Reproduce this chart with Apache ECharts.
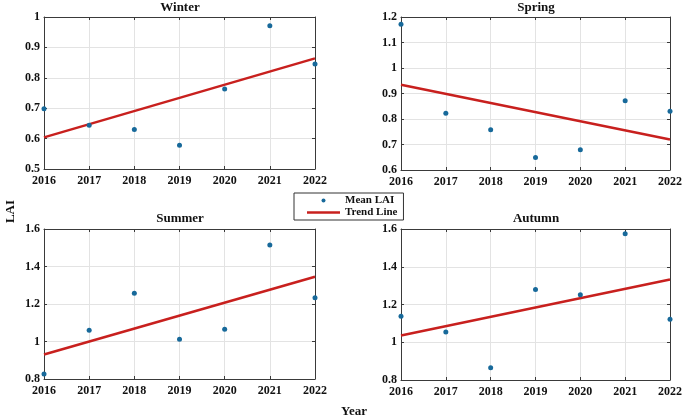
<!DOCTYPE html>
<html>
<head>
<meta charset="utf-8">
<script src="https://cdn.jsdelivr.net/npm/echarts@6/dist/echarts.min.js"></script>
<style>html,body{margin:0;padding:0;background:#fff}#c{width:685px;height:420px}</style>
</head>
<body>
<div id="c"></div>
<script>
const years = [2016, 2017, 2018, 2019, 2020, 2021, 2022];
const seasons = ['Winter', 'Spring', 'Summer', 'Autumn'];
const winterLAI = [0.698, 0.644, 0.630, 0.578, 0.763, 0.971, 0.845];
const springLAI = [1.172, 0.823, 0.758, 0.649, 0.679, 0.872, 0.830];
const summerLAI = [0.827, 1.060, 1.257, 1.012, 1.065, 1.515, 1.234];
const autumnLAI = [1.138, 1.054, 0.865, 1.279, 1.251, 1.575, 1.122];
// trend line values at 2016 and 2022
const winterTrend = [0.604, 0.864];
const springTrend = [0.934, 0.720];
const summerTrend = [0.931, 1.345];
const autumnTrend = [1.036, 1.332];
const yMin = [0.5, 0.6, 0.8, 0.8];
const yMax = [1.0, 1.2, 1.6, 1.6];
const yStep = [0.1, 0.1, 0.2, 0.2];

const lai = [winterLAI, springLAI, summerLAI, autumnLAI];
const trends = [winterTrend, springTrend, summerTrend, autumnTrend];

const FONT = 'Liberation Serif';
const gridBoxes = [
  {left: 44, top: 17, width: 271, height: 152},
  {left: 401, top: 17, width: 271, height: 153},
  {left: 44, top: 229, width: 271, height: 150},
  {left: 401, top: 229, width: 271, height: 151}
];
const titlePos = [[180, 1], [536, 1], [180, 212], [536, 212]];

const grid = [], xAxis = [], yAxis = [], series = [], title = [];
const lineCol = '#3a3a3a';
const fmt = v => String(Math.round(v * 100) / 100);
gridBoxes.forEach((g, i) => {
  grid.push(Object.assign({show: false}, g));
  title.push({text: seasons[i], left: titlePos[i][0], top: titlePos[i][1], textAlign: 'center', padding: 0,
    textStyle: {fontFamily: FONT, fontWeight: 'bold', fontSize: 13, color: '#111'}});
  const xCommon = {type: 'value', gridIndex: i, min: 2016, max: 2022, interval: 1};
  xAxis.push(Object.assign({}, xCommon, {position: 'bottom',
    axisLine: {show: true, onZero: false, lineStyle: {color: lineCol, width: 1}},
    axisTick: {show: true, inside: true, length: 3, lineStyle: {color: lineCol}},
    axisLabel: {show: true, margin: 6, formatter: v => String(v), fontFamily: FONT, fontWeight: 'bold', fontSize: 12, color: '#111'},
    splitLine: {show: true, lineStyle: {color: '#e3e3e3', width: 1}}}));
  xAxis.push(Object.assign({}, xCommon, {position: 'top',
    axisLine: {show: true, onZero: false, lineStyle: {color: lineCol, width: 1}},
    axisTick: {show: true, inside: true, length: 3, lineStyle: {color: lineCol}},
    axisLabel: {show: false}, splitLine: {show: false}}));
  const yCommon = {type: 'value', gridIndex: i, min: yMin[i], max: yMax[i], interval: yStep[i]};
  yAxis.push(Object.assign({}, yCommon, {position: 'left',
    axisLine: {show: true, onZero: false, lineStyle: {color: lineCol, width: 1}},
    axisTick: {show: true, inside: true, length: 3, lineStyle: {color: lineCol}},
    axisLabel: {show: true, margin: 4, formatter: fmt, fontFamily: FONT, fontWeight: 'bold', fontSize: 12, color: '#111'},
    splitLine: {show: true, lineStyle: {color: '#e3e3e3', width: 1}}}));
  yAxis.push(Object.assign({}, yCommon, {position: 'right',
    axisLine: {show: true, onZero: false, lineStyle: {color: lineCol, width: 1}},
    axisTick: {show: true, inside: true, length: 3, lineStyle: {color: lineCol}},
    axisLabel: {show: false}, splitLine: {show: false}}));
  series.push({name: 'Trend Line', type: 'line', xAxisIndex: 2 * i, yAxisIndex: 2 * i,
    data: [[years[0], trends[i][0]], [years[years.length - 1], trends[i][1]]],
    showSymbol: false, symbol: 'none', lineStyle: {color: '#c8201e', width: 2.5}, itemStyle: {color: '#c8201e'},
    z: 3, silent: true, animation: false});
  series.push({name: 'Mean LAI', type: 'scatter', xAxisIndex: 2 * i, yAxisIndex: 2 * i,
    data: years.map((y, k) => [y, lai[i][k]]), symbolSize: 5, clip: false,
    itemStyle: {color: '#17699a', opacity: 1}, z: 4, silent: true, animation: false});
});

const chart = echarts.init(document.getElementById('c'), null, {renderer: 'canvas'});
chart.setOption({
  animation: false,
  backgroundColor: '#fff',
  title: title,
  grid: grid, xAxis: xAxis, yAxis: yAxis, series: series,
  legend: {
    show: true, selectedMode: false, orient: 'vertical', left: 294, top: 193,
    data: [{name: 'Mean LAI', icon: 'circle'}, {name: 'Trend Line', icon: 'path://M0 0H33V2.5H0Z'}],
    itemWidth: 33, itemHeight: 4, itemGap: 1,
    borderColor: '#333', borderWidth: 1, padding: [2, 6, 2, 13],
    textStyle: {fontFamily: FONT, fontWeight: 'bold', fontSize: 11, color: '#111'}
  },
  graphic: [
    {type: 'text', left: 4, top: 200, rotation: Math.PI / 2,
      style: {text: 'LAI', font: 'bold 13px "Liberation Serif"', fill: '#111'}},
    {type: 'text', left: 341, top: 405,
      style: {text: 'Year', font: 'bold 13px "Liberation Serif"', fill: '#111'}}
  ]
});
</script>
</body>
</html>
